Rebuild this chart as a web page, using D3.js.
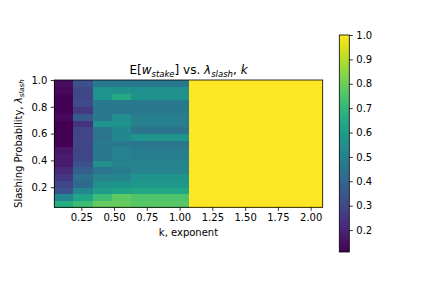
<!DOCTYPE html>
<html>
<head>
<meta charset="utf-8">
<script src="https://cdn.jsdelivr.net/npm/d3@7"></script>
<style>
  body { margin: 0; padding: 0; background: #fff; overflow: hidden; }
  text { font-family: "DejaVu Sans", sans-serif; fill: #000; }
</style>
</head>
<body>
<script>

    // k (exponent) cell edges, 14 columns
    const kEdges = [0.044, 0.190, 0.337, 0.483, 0.629, 0.776, 0.922, 1.068,
                    1.215, 1.361, 1.507, 1.653, 1.800, 1.946, 2.092]
    // slashing probability cell edges, 19 rows
    const lamEdges = [0.05, 0.10, 0.15, 0.20, 0.25, 0.30, 0.35, 0.40, 0.45, 0.50,
                      0.55, 0.60, 0.65, 0.70, 0.75, 0.80, 0.85, 0.90, 0.95, 1.00]

    // E[w_stake], one row per lambda (bottom row first), first 7 k columns
    const wLow = [
      [0.66, 0.72, 0.79, 0.79, 0.77, 0.77, 0.77],
      [0.52, 0.63, 0.72, 0.78, 0.75, 0.75, 0.75],
      [0.33, 0.52, 0.60, 0.63, 0.64, 0.64, 0.64],
      [0.30, 0.41, 0.56, 0.57, 0.58, 0.58, 0.58],
      [0.25, 0.43, 0.51, 0.51, 0.57, 0.57, 0.57],
      [0.21, 0.38, 0.46, 0.48, 0.51, 0.51, 0.51],
      [0.17, 0.33, 0.55, 0.51, 0.51, 0.51, 0.51],
      [0.18, 0.30, 0.47, 0.50, 0.49, 0.49, 0.49],
      [0.16, 0.29, 0.47, 0.50, 0.48, 0.48, 0.48],
      [0.11, 0.30, 0.47, 0.47, 0.46, 0.46, 0.46],
      [0.11, 0.29, 0.45, 0.52, 0.57, 0.57, 0.57],
      [0.11, 0.29, 0.46, 0.52, 0.45, 0.45, 0.45],
      [0.11, 0.24, 0.57, 0.56, 0.49, 0.49, 0.49],
      [0.13, 0.36, 0.47, 0.55, 0.49, 0.49, 0.49],
      [0.115, 0.26, 0.46, 0.46, 0.47, 0.47, 0.47],
      [0.115, 0.31, 0.47, 0.47, 0.47, 0.47, 0.47],
      [0.115, 0.30, 0.57, 0.65, 0.56, 0.56, 0.56],
      [0.13, 0.30, 0.57, 0.56, 0.55, 0.55, 0.55],
      [0.14, 0.33, 0.47, 0.47, 0.47, 0.47, 0.47]
    ]
    // remaining 7 k columns (k > 1) are saturated
    const wHigh = [1.0, 1.0, 1.0, 1.0, 1.0, 1.0, 1.0]

    const xTicks = [0.25, 0.50, 0.75, 1.00, 1.25, 1.50, 1.75, 2.00]
    const yTicks = [0.2, 0.4, 0.6, 0.8, 1.0]
    const cbTicks = [0.2, 0.3, 0.4, 0.5, 0.6, 0.7, 0.8, 0.9, 1.0]

    const width = 432, height = 288
    const plot = {left: 54.3, right: 322.7, top: 80, bottom: 207.3}
    const cb = {left: 339.3, right: 349.3, top: 35, bottom: 252}

    const cells = []
    wLow.forEach((row, i) => {
      row.concat(wHigh).forEach((v, j) => {
        cells.push({k0: kEdges[j], k1: kEdges[j + 1], l0: lamEdges[i], l1: lamEdges[i + 1], v: v})
      })
    })

    const allVals = cells.map(d => d.v)
    const vmin = d3.min(allVals), vmax = d3.max(allVals)

    const x = d3.scaleLinear().domain([kEdges[0], kEdges[kEdges.length - 1]]).range([plot.left, plot.right])
    const y = d3.scaleLinear().domain([lamEdges[0], lamEdges[lamEdges.length - 1]]).range([plot.bottom, plot.top])
    const color = d3.scaleSequential(d3.interpolateViridis).domain([vmin, vmax])
    const cbScale = d3.scaleLinear().domain([vmin, vmax]).range([cb.bottom, cb.top])

    const svg = d3.select("body").append("svg")
      .attr("width", width)
      .attr("height", height)

    svg.append("rect").attr("width", width).attr("height", height).attr("fill", "#fff")

    // heatmap cells
    svg.append("g").selectAll("rect")
        .data(cells)
        .enter().append("rect")
        .attr("x", d => x(d.k0))
        .attr("y", d => y(d.l1))
        .attr("width", d => x(d.k1) - x(d.k0) + 0.3)
        .attr("height", d => y(d.l0) - y(d.l1) + 0.3)
        .attr("fill", d => color(d.v))
        .attr("shape-rendering", "crispEdges")

    // axes
    const xAxis = svg.append("g")
      .attr("transform", `translate(0,${plot.bottom})`)
      .call(d3.axisBottom(x).tickValues(xTicks).tickFormat(d3.format(".2f")).tickSizeOuter(0).tickSize(3.5).tickPadding(3.5))
    const yAxis = svg.append("g")
      .attr("transform", `translate(${plot.left},0)`)
      .call(d3.axisLeft(y).tickValues(yTicks).tickFormat(d3.format(".1f")).tickSizeOuter(0).tickSize(3.5).tickPadding(3.5))

    ;[xAxis, yAxis].forEach(g => {
      g.select(".domain").remove()
      g.selectAll("line").attr("stroke", "#000").attr("stroke-width", 0.8)
      g.selectAll("text").attr("font-size", 10).attr("font-family", "DejaVu Sans").attr("fill", "#000")
    })

    svg.append("rect")
      .attr("x", plot.left).attr("y", plot.top)
      .attr("width", plot.right - plot.left).attr("height", plot.bottom - plot.top)
      .attr("fill", "none").attr("stroke", "#000").attr("stroke-width", 0.8)

    // title with subscripts
    const title = svg.append("text")
      .attr("x", (plot.left + plot.right) / 2)
      .attr("y", 74)
      .attr("text-anchor", "middle")
      .attr("font-size", 12)
    title.append("tspan").text("E[")
    title.append("tspan").attr("font-style", "italic").text("w")
    title.append("tspan").attr("font-style", "italic").attr("font-size", 8.5).attr("dy", 2.5).text("stake")
    title.append("tspan").attr("dy", -2.5).text("] vs. ")
    title.append("tspan").attr("font-style", "italic").text("λ")
    title.append("tspan").attr("font-style", "italic").attr("font-size", 8.5).attr("dy", 2.5).text("slash")
    title.append("tspan").attr("dy", -2.5).text(", ")
    title.append("tspan").attr("font-style", "italic").text("k")

    svg.append("text")
      .attr("x", (plot.left + plot.right) / 2)
      .attr("y", 236)
      .attr("text-anchor", "middle")
      .attr("font-size", 10)
      .text("k, exponent")

    const ylab = svg.append("text")
      .attr("transform", `translate(22,${(plot.top + plot.bottom) / 2}) rotate(-90)`)
      .attr("text-anchor", "middle")
      .attr("font-size", 10)
    ylab.append("tspan").text("Slashing Probability, ")
    ylab.append("tspan").attr("font-style", "italic").text("λ")
    ylab.append("tspan").attr("font-style", "italic").attr("font-size", 7).attr("dy", 2).text("slash")

    // colorbar
    const grad = svg.append("defs").append("linearGradient")
      .attr("id", "cbgrad")
      .attr("x1", 0).attr("y1", 1).attr("x2", 0).attr("y2", 0)
    d3.range(0, 1.0001, 0.05).forEach(t => {
      grad.append("stop").attr("offset", t).attr("stop-color", d3.interpolateViridis(t))
    })
    svg.append("rect")
      .attr("x", cb.left).attr("y", cb.top)
      .attr("width", cb.right - cb.left).attr("height", cb.bottom - cb.top)
      .attr("fill", "url(#cbgrad)")
      .attr("stroke", "#000").attr("stroke-width", 0.8)

    const cbAxis = svg.append("g")
      .attr("transform", `translate(${cb.right},0)`)
      .call(d3.axisRight(cbScale).tickValues(cbTicks).tickFormat(d3.format(".1f")).tickSizeOuter(0).tickSize(3.5).tickPadding(3.5))
    cbAxis.select(".domain").remove()
    cbAxis.selectAll("line").attr("stroke", "#000").attr("stroke-width", 0.8)
    cbAxis.selectAll("text").attr("font-size", 10).attr("font-family", "DejaVu Sans").attr("fill", "#000")

</script>
</body>
</html>
